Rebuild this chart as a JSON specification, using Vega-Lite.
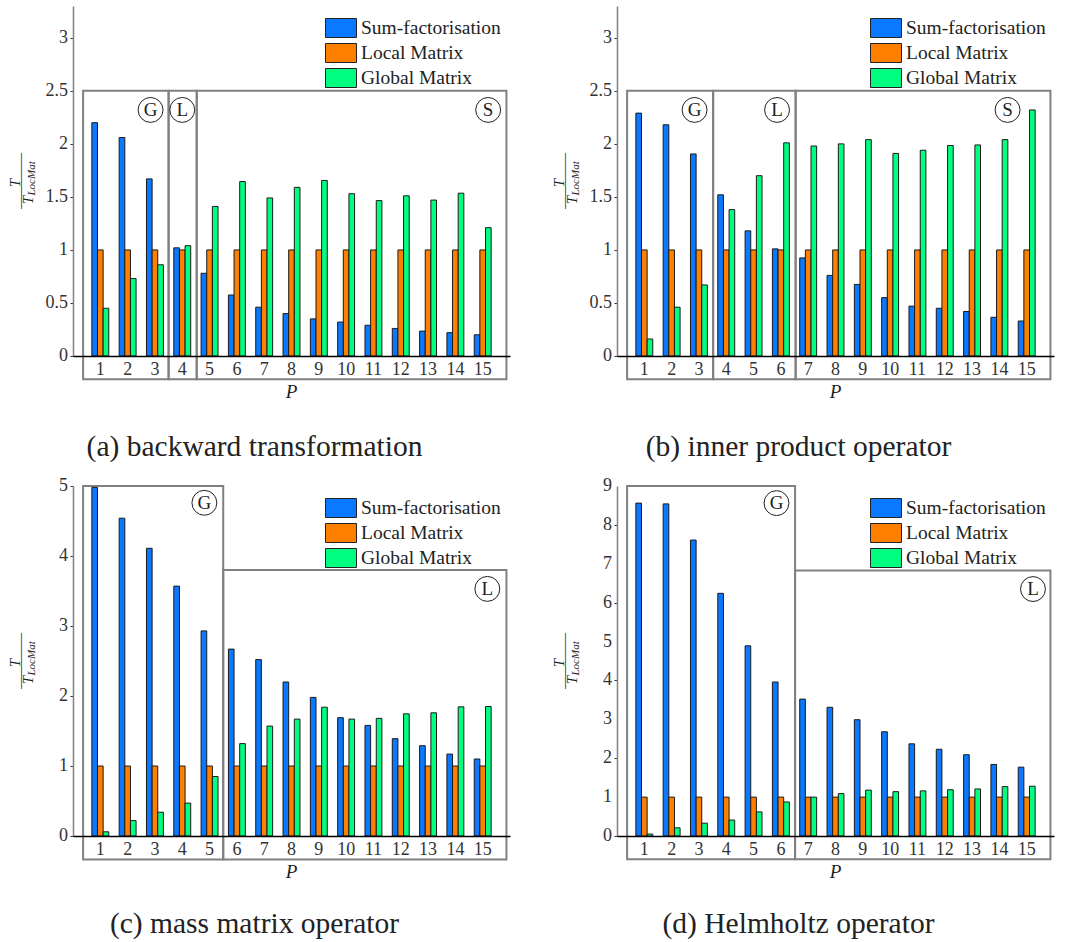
{
 "$schema": "https://vega.github.io/schema/vega-lite/v6.json",
 "padding": {"left": 8, "top": 6, "right": 5, "bottom": 0},
 "background": "white",
 "datasets": {
  "bars": [
   {"panel":"a","P":1,"Sum-factorisation":2.2,"Local Matrix":1,"Global Matrix":0.45},
   {"panel":"a","P":2,"Sum-factorisation":2.06,"Local Matrix":1,"Global Matrix":0.73},
   {"panel":"a","P":3,"Sum-factorisation":1.67,"Local Matrix":1,"Global Matrix":0.86},
   {"panel":"a","P":4,"Sum-factorisation":1.02,"Local Matrix":1,"Global Matrix":1.04},
   {"panel":"a","P":5,"Sum-factorisation":0.78,"Local Matrix":1,"Global Matrix":1.41},
   {"panel":"a","P":6,"Sum-factorisation":0.575,"Local Matrix":1,"Global Matrix":1.645},
   {"panel":"a","P":7,"Sum-factorisation":0.46,"Local Matrix":1,"Global Matrix":1.49},
   {"panel":"a","P":8,"Sum-factorisation":0.4,"Local Matrix":1,"Global Matrix":1.59},
   {"panel":"a","P":9,"Sum-factorisation":0.35,"Local Matrix":1,"Global Matrix":1.655},
   {"panel":"a","P":10,"Sum-factorisation":0.32,"Local Matrix":1,"Global Matrix":1.53},
   {"panel":"a","P":11,"Sum-factorisation":0.29,"Local Matrix":1,"Global Matrix":1.465},
   {"panel":"a","P":12,"Sum-factorisation":0.26,"Local Matrix":1,"Global Matrix":1.51},
   {"panel":"a","P":13,"Sum-factorisation":0.235,"Local Matrix":1,"Global Matrix":1.47},
   {"panel":"a","P":14,"Sum-factorisation":0.22,"Local Matrix":1,"Global Matrix":1.535},
   {"panel":"a","P":15,"Sum-factorisation":0.2,"Local Matrix":1,"Global Matrix":1.21},
   {"panel":"b","P":1,"Sum-factorisation":2.29,"Local Matrix":1,"Global Matrix":0.16},
   {"panel":"b","P":2,"Sum-factorisation":2.18,"Local Matrix":1,"Global Matrix":0.46},
   {"panel":"b","P":3,"Sum-factorisation":1.905,"Local Matrix":1,"Global Matrix":0.67},
   {"panel":"b","P":4,"Sum-factorisation":1.52,"Local Matrix":1,"Global Matrix":1.38},
   {"panel":"b","P":5,"Sum-factorisation":1.18,"Local Matrix":1,"Global Matrix":1.7},
   {"panel":"b","P":6,"Sum-factorisation":1.01,"Local Matrix":1,"Global Matrix":2.01},
   {"panel":"b","P":7,"Sum-factorisation":0.925,"Local Matrix":1,"Global Matrix":1.98},
   {"panel":"b","P":8,"Sum-factorisation":0.76,"Local Matrix":1,"Global Matrix":2.0},
   {"panel":"b","P":9,"Sum-factorisation":0.675,"Local Matrix":1,"Global Matrix":2.04},
   {"panel":"b","P":10,"Sum-factorisation":0.55,"Local Matrix":1,"Global Matrix":1.91},
   {"panel":"b","P":11,"Sum-factorisation":0.47,"Local Matrix":1,"Global Matrix":1.94},
   {"panel":"b","P":12,"Sum-factorisation":0.45,"Local Matrix":1,"Global Matrix":1.985},
   {"panel":"b","P":13,"Sum-factorisation":0.42,"Local Matrix":1,"Global Matrix":1.99},
   {"panel":"b","P":14,"Sum-factorisation":0.365,"Local Matrix":1,"Global Matrix":2.04},
   {"panel":"b","P":15,"Sum-factorisation":0.33,"Local Matrix":1,"Global Matrix":2.32},
   {"panel":"c","P":1,"Sum-factorisation":4.98,"Local Matrix":1,"Global Matrix":0.06},
   {"panel":"c","P":2,"Sum-factorisation":4.54,"Local Matrix":1,"Global Matrix":0.22},
   {"panel":"c","P":3,"Sum-factorisation":4.11,"Local Matrix":1,"Global Matrix":0.34},
   {"panel":"c","P":4,"Sum-factorisation":3.57,"Local Matrix":1,"Global Matrix":0.47},
   {"panel":"c","P":5,"Sum-factorisation":2.93,"Local Matrix":1,"Global Matrix":0.85},
   {"panel":"c","P":6,"Sum-factorisation":2.67,"Local Matrix":1,"Global Matrix":1.32},
   {"panel":"c","P":7,"Sum-factorisation":2.52,"Local Matrix":1,"Global Matrix":1.57},
   {"panel":"c","P":8,"Sum-factorisation":2.2,"Local Matrix":1,"Global Matrix":1.67},
   {"panel":"c","P":9,"Sum-factorisation":1.98,"Local Matrix":1,"Global Matrix":1.84},
   {"panel":"c","P":10,"Sum-factorisation":1.69,"Local Matrix":1,"Global Matrix":1.67},
   {"panel":"c","P":11,"Sum-factorisation":1.58,"Local Matrix":1,"Global Matrix":1.68},
   {"panel":"c","P":12,"Sum-factorisation":1.39,"Local Matrix":1,"Global Matrix":1.745},
   {"panel":"c","P":13,"Sum-factorisation":1.29,"Local Matrix":1,"Global Matrix":1.76},
   {"panel":"c","P":14,"Sum-factorisation":1.17,"Local Matrix":1,"Global Matrix":1.845},
   {"panel":"c","P":15,"Sum-factorisation":1.1,"Local Matrix":1,"Global Matrix":1.85},
   {"panel":"d","P":1,"Sum-factorisation":8.56,"Local Matrix":1,"Global Matrix":0.05},
   {"panel":"d","P":2,"Sum-factorisation":8.54,"Local Matrix":1,"Global Matrix":0.21},
   {"panel":"d","P":3,"Sum-factorisation":7.61,"Local Matrix":1,"Global Matrix":0.33},
   {"panel":"d","P":4,"Sum-factorisation":6.24,"Local Matrix":1,"Global Matrix":0.41},
   {"panel":"d","P":5,"Sum-factorisation":4.89,"Local Matrix":1,"Global Matrix":0.62},
   {"panel":"d","P":6,"Sum-factorisation":3.96,"Local Matrix":1,"Global Matrix":0.875},
   {"panel":"d","P":7,"Sum-factorisation":3.52,"Local Matrix":1,"Global Matrix":1.0},
   {"panel":"d","P":8,"Sum-factorisation":3.31,"Local Matrix":1,"Global Matrix":1.09},
   {"panel":"d","P":9,"Sum-factorisation":2.99,"Local Matrix":1,"Global Matrix":1.18},
   {"panel":"d","P":10,"Sum-factorisation":2.68,"Local Matrix":1,"Global Matrix":1.14},
   {"panel":"d","P":11,"Sum-factorisation":2.37,"Local Matrix":1,"Global Matrix":1.16},
   {"panel":"d","P":12,"Sum-factorisation":2.23,"Local Matrix":1,"Global Matrix":1.19},
   {"panel":"d","P":13,"Sum-factorisation":2.09,"Local Matrix":1,"Global Matrix":1.21},
   {"panel":"d","P":14,"Sum-factorisation":1.84,"Local Matrix":1,"Global Matrix":1.27},
   {"panel":"d","P":15,"Sum-factorisation":1.77,"Local Matrix":1,"Global Matrix":1.28}
  ],
  "boxes": [
   {"panel":"a","x0":0.37,"x1":3.5,"y0":-0.22,"y1":2.5},
   {"panel":"a","x0":3.5,"x1":4.53,"y0":-0.22,"y1":2.5},
   {"panel":"a","x0":4.53,"x1":15.87,"y0":-0.22,"y1":2.5},
   {"panel":"b","x0":0.37,"x1":3.52,"y0":-0.22,"y1":2.5},
   {"panel":"b","x0":3.52,"x1":6.54,"y0":-0.22,"y1":2.5},
   {"panel":"b","x0":6.54,"x1":15.87,"y0":-0.22,"y1":2.5},
   {"panel":"c","x0":0.37,"x1":5.5,"y0":-0.335,"y1":5.0},
   {"panel":"c","x0":5.5,"x1":15.87,"y0":-0.335,"y1":3.8},
   {"panel":"d","x0":0.37,"x1":6.52,"y0":-0.6,"y1":9.0},
   {"panel":"d","x0":6.52,"x1":15.87,"y0":-0.6,"y1":6.83}
  ],
  "circles": [
   {"panel":"a","label":"G","x":2.84,"y":2.32},
   {"panel":"a","label":"L","x":4.0,"y":2.32},
   {"panel":"a","label":"S","x":15.2,"y":2.32},
   {"panel":"b","label":"G","x":2.84,"y":2.32},
   {"panel":"b","label":"L","x":5.86,"y":2.32},
   {"panel":"b","label":"S","x":14.3,"y":2.32},
   {"panel":"c","label":"G","x":4.81,"y":4.76},
   {"panel":"c","label":"L","x":15.17,"y":3.53},
   {"panel":"d","label":"G","x":5.84,"y":8.56},
   {"panel":"d","label":"L","x":15.23,"y":6.35}
  ],
  "xlab": [{"P":1},{"P":2},{"P":3},{"P":4},{"P":5},{"P":6},{"P":7},{"P":8},{"P":9},{"P":10},{"P":11},{"P":12},{"P":13},{"P":14},{"P":15}],
  "yt": [
   {"panel":"a","v":0},{"panel":"a","v":0.5},{"panel":"a","v":1},{"panel":"a","v":1.5},{"panel":"a","v":2},{"panel":"a","v":2.5},{"panel":"a","v":3},
   {"panel":"b","v":0},{"panel":"b","v":0.5},{"panel":"b","v":1},{"panel":"b","v":1.5},{"panel":"b","v":2},{"panel":"b","v":2.5},{"panel":"b","v":3},
   {"panel":"c","v":0},{"panel":"c","v":1},{"panel":"c","v":2},{"panel":"c","v":3},{"panel":"c","v":4},{"panel":"c","v":5},
   {"panel":"d","v":0},{"panel":"d","v":1},{"panel":"d","v":2},{"panel":"d","v":3},{"panel":"d","v":4},{"panel":"d","v":5},{"panel":"d","v":6},{"panel":"d","v":7},{"panel":"d","v":8},{"panel":"d","v":9}
  ],
  "frac": [{"panel":"a","ymid":1.65},{"panel":"b","ymid":1.65},{"panel":"c","ymid":2.5},{"panel":"d","ymid":4.5}]
 },
 "columns": 2,
 "spacing": {"row": 15, "column": 42},
 "concat": [
  {
   "width": 437, "height": 350,
   "title": {"text": "(a) backward transformation", "offset": 31},
   "layer": [
    {"layer": [
     {"data": {"name": "boxes"}, "transform": [{"filter": "datum.panel == 'a'"}],
      "mark": {"type": "rect", "filled": false, "stroke": "#808080", "strokeWidth": 2},
      "encoding": {
       "x": {"field": "x0", "type": "quantitative", "scale": {"domain": [0, 16], "nice": false, "zero": false},
             "axis": {"labels": false, "ticks": false, "title": null, "grid": false, "domainColor": "#000000", "domainWidth": 1.5, "zindex": 1}},
       "x2": {"field": "x1"},
       "y": {"field": "y1", "type": "quantitative", "scale": {"domain": [0, 3.3], "nice": false}},
       "y2": {"field": "y0"}}},
     {"data": {"name": "circles"}, "transform": [{"filter": "datum.panel == 'a'"}],
      "mark": {"type": "point", "shape": "circle", "size": 620, "filled": false, "stroke": "#222", "strokeWidth": 1, "opacity": 1},
      "encoding": {"x": {"field": "x", "type": "quantitative"}, "y": {"field": "y", "type": "quantitative"}}},
     {"data": {"name": "circles"}, "transform": [{"filter": "datum.panel == 'a'"}],
      "mark": {"type": "text", "fontSize": 19, "color": "#222", "baseline": "middle", "align": "center"},
      "encoding": {"x": {"field": "x", "type": "quantitative"}, "y": {"field": "y", "type": "quantitative"}, "text": {"field": "label"}}},
     {"data": {"name": "xlab"},
      "mark": {"type": "text", "fontSize": 18, "color": "#333333", "baseline": "middle", "align": "center", "dy": 14},
      "encoding": {"x": {"field": "P", "type": "quantitative"}, "y": {"datum": 0, "type": "quantitative"}, "text": {"field": "P", "type": "quantitative"}}},
     {"data": {"name": "yt"}, "transform": [{"filter": "datum.panel == 'a'"}],
      "mark": {"type": "text", "fontSize": 18, "color": "#333333", "baseline": "middle", "align": "right", "dx": -5},
      "encoding": {"x": {"datum": 0, "type": "quantitative"}, "y": {"field": "v", "type": "quantitative"}, "text": {"field": "v", "type": "quantitative", "format": "~g"}}},
     {"data": {"name": "frac"}, "transform": [{"filter": "datum.panel == 'a'"}],
      "mark": {"type": "text", "fontSize": 19, "fontStyle": "italic", "color": "#222222", "baseline": "middle", "align": "center", "dy": 36},
      "encoding": {"x": {"datum": 8, "type": "quantitative"}, "y": {"datum": 0, "type": "quantitative"}, "text": {"value": "P"}}},
     {"data": {"name": "frac"}, "transform": [{"filter": "datum.panel == 'a'"}],
      "mark": {"type": "text", "fontSize": 15, "fontStyle": "italic", "color": "#222222", "baseline": "middle", "align": "center", "angle": 270, "dx": -2, "dy": -58},
      "encoding": {"x": {"datum": 0, "type": "quantitative"}, "y": {"field": "ymid", "type": "quantitative"}, "text": {"value": "T"}}},
     {"data": {"name": "frac"}, "transform": [{"filter": "datum.panel == 'a'"}],
      "mark": {"type": "text", "fontSize": 14, "color": "#222222", "baseline": "middle", "align": "center", "angle": 270, "dx": 0, "dy": -52},
      "encoding": {"x": {"datum": 0, "type": "quantitative"}, "y": {"field": "ymid", "type": "quantitative"}, "text": {"value": "\u2014\u2014\u2014\u2014"}}},
     {"data": {"name": "frac"}, "transform": [{"filter": "datum.panel == 'a'"}],
      "mark": {"type": "text", "fontSize": 15, "fontStyle": "italic", "color": "#222222", "baseline": "middle", "align": "right", "angle": 270, "dx": -15, "dy": -45},
      "encoding": {"x": {"datum": 0, "type": "quantitative"}, "y": {"field": "ymid", "type": "quantitative"}, "text": {"value": "T"}}},
     {"data": {"name": "frac"}, "transform": [{"filter": "datum.panel == 'a'"}],
      "mark": {"type": "text", "fontSize": 11, "fontStyle": "italic", "color": "#222222", "baseline": "middle", "align": "left", "angle": 270, "dx": -14.5, "dy": -41},
      "encoding": {"x": {"datum": 0, "type": "quantitative"}, "y": {"field": "ymid", "type": "quantitative"}, "text": {"value": "LocMat"}}}
    ]},
    {"data": {"name": "bars"},
     "transform": [{"filter": "datum.panel == 'a'"}, {"fold": ["Sum-factorisation", "Local Matrix", "Global Matrix"], "as": ["series", "value"]}],
     "mark": {"type": "bar", "stroke": "#1a1a1a", "strokeWidth": 1},
     "encoding": {
      "x": {"field": "P", "type": "ordinal", "scale": {"paddingInner": 0.38, "paddingOuter": 0.69}, "axis": null},
      "xOffset": {"field": "series", "type": "nominal", "sort": ["Sum-factorisation", "Local Matrix", "Global Matrix"]},
      "y": {"field": "value", "type": "quantitative", "scale": {"domain": [0, 3.3], "nice": false},
            "axis": {"values": [0, 0.5, 1, 1.5, 2, 2.5, 3], "labels": false, "title": null, "grid": false, "tickSize": 3, "tickColor": "#333333", "domainColor": "#808080", "domainWidth": 1.5}},
      "color": {"field": "series", "type": "nominal",
                "scale": {"domain": ["Sum-factorisation", "Local Matrix", "Global Matrix"], "range": ["#0a78ff", "#ff8000", "#00ff80"]},
                "legend": {"title": null, "orient": "none", "legendX": 258, "legendY": 12}}}}
   ],
   "resolve": {"scale": {"x": "independent"}}
  },
  {
   "width": 437, "height": 350,
   "title": {"text": "(b) inner product operator", "offset": 31},
   "layer": [
    {"layer": [
     {"data": {"name": "boxes"}, "transform": [{"filter": "datum.panel == 'b'"}],
      "mark": {"type": "rect", "filled": false, "stroke": "#808080", "strokeWidth": 2},
      "encoding": {
       "x": {"field": "x0", "type": "quantitative", "scale": {"domain": [0, 16], "nice": false, "zero": false},
             "axis": {"labels": false, "ticks": false, "title": null, "grid": false, "domainColor": "#000000", "domainWidth": 1.5, "zindex": 1}},
       "x2": {"field": "x1"},
       "y": {"field": "y1", "type": "quantitative", "scale": {"domain": [0, 3.3], "nice": false}},
       "y2": {"field": "y0"}}},
     {"data": {"name": "circles"}, "transform": [{"filter": "datum.panel == 'b'"}],
      "mark": {"type": "point", "shape": "circle", "size": 620, "filled": false, "stroke": "#222", "strokeWidth": 1, "opacity": 1},
      "encoding": {"x": {"field": "x", "type": "quantitative"}, "y": {"field": "y", "type": "quantitative"}}},
     {"data": {"name": "circles"}, "transform": [{"filter": "datum.panel == 'b'"}],
      "mark": {"type": "text", "fontSize": 19, "color": "#222", "baseline": "middle", "align": "center"},
      "encoding": {"x": {"field": "x", "type": "quantitative"}, "y": {"field": "y", "type": "quantitative"}, "text": {"field": "label"}}},
     {"data": {"name": "xlab"},
      "mark": {"type": "text", "fontSize": 18, "color": "#333333", "baseline": "middle", "align": "center", "dy": 14},
      "encoding": {"x": {"field": "P", "type": "quantitative"}, "y": {"datum": 0, "type": "quantitative"}, "text": {"field": "P", "type": "quantitative"}}},
     {"data": {"name": "yt"}, "transform": [{"filter": "datum.panel == 'b'"}],
      "mark": {"type": "text", "fontSize": 18, "color": "#333333", "baseline": "middle", "align": "right", "dx": -5},
      "encoding": {"x": {"datum": 0, "type": "quantitative"}, "y": {"field": "v", "type": "quantitative"}, "text": {"field": "v", "type": "quantitative", "format": "~g"}}},
     {"data": {"name": "frac"}, "transform": [{"filter": "datum.panel == 'b'"}],
      "mark": {"type": "text", "fontSize": 19, "fontStyle": "italic", "color": "#222222", "baseline": "middle", "align": "center", "dy": 36},
      "encoding": {"x": {"datum": 8, "type": "quantitative"}, "y": {"datum": 0, "type": "quantitative"}, "text": {"value": "P"}}},
     {"data": {"name": "frac"}, "transform": [{"filter": "datum.panel == 'b'"}],
      "mark": {"type": "text", "fontSize": 15, "fontStyle": "italic", "color": "#222222", "baseline": "middle", "align": "center", "angle": 270, "dx": -2, "dy": -58},
      "encoding": {"x": {"datum": 0, "type": "quantitative"}, "y": {"field": "ymid", "type": "quantitative"}, "text": {"value": "T"}}},
     {"data": {"name": "frac"}, "transform": [{"filter": "datum.panel == 'b'"}],
      "mark": {"type": "text", "fontSize": 14, "color": "#222222", "baseline": "middle", "align": "center", "angle": 270, "dx": 0, "dy": -52},
      "encoding": {"x": {"datum": 0, "type": "quantitative"}, "y": {"field": "ymid", "type": "quantitative"}, "text": {"value": "\u2014\u2014\u2014\u2014"}}},
     {"data": {"name": "frac"}, "transform": [{"filter": "datum.panel == 'b'"}],
      "mark": {"type": "text", "fontSize": 15, "fontStyle": "italic", "color": "#222222", "baseline": "middle", "align": "right", "angle": 270, "dx": -15, "dy": -45},
      "encoding": {"x": {"datum": 0, "type": "quantitative"}, "y": {"field": "ymid", "type": "quantitative"}, "text": {"value": "T"}}},
     {"data": {"name": "frac"}, "transform": [{"filter": "datum.panel == 'b'"}],
      "mark": {"type": "text", "fontSize": 11, "fontStyle": "italic", "color": "#222222", "baseline": "middle", "align": "left", "angle": 270, "dx": -14.5, "dy": -41},
      "encoding": {"x": {"datum": 0, "type": "quantitative"}, "y": {"field": "ymid", "type": "quantitative"}, "text": {"value": "LocMat"}}}
    ]},
    {"data": {"name": "bars"},
     "transform": [{"filter": "datum.panel == 'b'"}, {"fold": ["Sum-factorisation", "Local Matrix", "Global Matrix"], "as": ["series", "value"]}],
     "mark": {"type": "bar", "stroke": "#1a1a1a", "strokeWidth": 1},
     "encoding": {
      "x": {"field": "P", "type": "ordinal", "scale": {"paddingInner": 0.38, "paddingOuter": 0.69}, "axis": null},
      "xOffset": {"field": "series", "type": "nominal", "sort": ["Sum-factorisation", "Local Matrix", "Global Matrix"]},
      "y": {"field": "value", "type": "quantitative", "scale": {"domain": [0, 3.3], "nice": false},
            "axis": {"values": [0, 0.5, 1, 1.5, 2, 2.5, 3], "labels": false, "title": null, "grid": false, "tickSize": 3, "tickColor": "#333333", "domainColor": "#808080", "domainWidth": 1.5}},
      "color": {"field": "series", "type": "nominal",
                "scale": {"domain": ["Sum-factorisation", "Local Matrix", "Global Matrix"], "range": ["#0a78ff", "#ff8000", "#00ff80"]},
                "legend": {"title": null, "orient": "none", "legendX": 259, "legendY": 12}}}}
   ],
   "resolve": {"scale": {"x": "independent"}}
  },
  {
   "width": 437, "height": 350,
   "title": {"text": "(c) mass matrix operator", "offset": 28},
   "layer": [
    {"layer": [
     {"data": {"name": "boxes"}, "transform": [{"filter": "datum.panel == 'c'"}],
      "mark": {"type": "rect", "filled": false, "stroke": "#808080", "strokeWidth": 2},
      "encoding": {
       "x": {"field": "x0", "type": "quantitative", "scale": {"domain": [0, 16], "nice": false, "zero": false},
             "axis": {"labels": false, "ticks": false, "title": null, "grid": false, "domainColor": "#000000", "domainWidth": 1.5, "zindex": 1}},
       "x2": {"field": "x1"},
       "y": {"field": "y1", "type": "quantitative", "scale": {"domain": [0, 5], "nice": false}},
       "y2": {"field": "y0"}}},
     {"data": {"name": "circles"}, "transform": [{"filter": "datum.panel == 'c'"}],
      "mark": {"type": "point", "shape": "circle", "size": 620, "filled": false, "stroke": "#222", "strokeWidth": 1, "opacity": 1},
      "encoding": {"x": {"field": "x", "type": "quantitative"}, "y": {"field": "y", "type": "quantitative"}}},
     {"data": {"name": "circles"}, "transform": [{"filter": "datum.panel == 'c'"}],
      "mark": {"type": "text", "fontSize": 19, "color": "#222", "baseline": "middle", "align": "center"},
      "encoding": {"x": {"field": "x", "type": "quantitative"}, "y": {"field": "y", "type": "quantitative"}, "text": {"field": "label"}}},
     {"data": {"name": "xlab"},
      "mark": {"type": "text", "fontSize": 18, "color": "#333333", "baseline": "middle", "align": "center", "dy": 14},
      "encoding": {"x": {"field": "P", "type": "quantitative"}, "y": {"datum": 0, "type": "quantitative"}, "text": {"field": "P", "type": "quantitative"}}},
     {"data": {"name": "yt"}, "transform": [{"filter": "datum.panel == 'c'"}],
      "mark": {"type": "text", "fontSize": 18, "color": "#333333", "baseline": "middle", "align": "right", "dx": -5},
      "encoding": {"x": {"datum": 0, "type": "quantitative"}, "y": {"field": "v", "type": "quantitative"}, "text": {"field": "v", "type": "quantitative", "format": "~g"}}},
     {"data": {"name": "frac"}, "transform": [{"filter": "datum.panel == 'c'"}],
      "mark": {"type": "text", "fontSize": 19, "fontStyle": "italic", "color": "#222222", "baseline": "middle", "align": "center", "dy": 36},
      "encoding": {"x": {"datum": 8, "type": "quantitative"}, "y": {"datum": 0, "type": "quantitative"}, "text": {"value": "P"}}},
     {"data": {"name": "frac"}, "transform": [{"filter": "datum.panel == 'c'"}],
      "mark": {"type": "text", "fontSize": 15, "fontStyle": "italic", "color": "#222222", "baseline": "middle", "align": "center", "angle": 270, "dx": -2, "dy": -58},
      "encoding": {"x": {"datum": 0, "type": "quantitative"}, "y": {"field": "ymid", "type": "quantitative"}, "text": {"value": "T"}}},
     {"data": {"name": "frac"}, "transform": [{"filter": "datum.panel == 'c'"}],
      "mark": {"type": "text", "fontSize": 14, "color": "#222222", "baseline": "middle", "align": "center", "angle": 270, "dx": 0, "dy": -52},
      "encoding": {"x": {"datum": 0, "type": "quantitative"}, "y": {"field": "ymid", "type": "quantitative"}, "text": {"value": "\u2014\u2014\u2014\u2014"}}},
     {"data": {"name": "frac"}, "transform": [{"filter": "datum.panel == 'c'"}],
      "mark": {"type": "text", "fontSize": 15, "fontStyle": "italic", "color": "#222222", "baseline": "middle", "align": "right", "angle": 270, "dx": -15, "dy": -45},
      "encoding": {"x": {"datum": 0, "type": "quantitative"}, "y": {"field": "ymid", "type": "quantitative"}, "text": {"value": "T"}}},
     {"data": {"name": "frac"}, "transform": [{"filter": "datum.panel == 'c'"}],
      "mark": {"type": "text", "fontSize": 11, "fontStyle": "italic", "color": "#222222", "baseline": "middle", "align": "left", "angle": 270, "dx": -14.5, "dy": -41},
      "encoding": {"x": {"datum": 0, "type": "quantitative"}, "y": {"field": "ymid", "type": "quantitative"}, "text": {"value": "LocMat"}}}
    ]},
    {"data": {"name": "bars"},
     "transform": [{"filter": "datum.panel == 'c'"}, {"fold": ["Sum-factorisation", "Local Matrix", "Global Matrix"], "as": ["series", "value"]}],
     "mark": {"type": "bar", "stroke": "#1a1a1a", "strokeWidth": 1},
     "encoding": {
      "x": {"field": "P", "type": "ordinal", "scale": {"paddingInner": 0.38, "paddingOuter": 0.69}, "axis": null},
      "xOffset": {"field": "series", "type": "nominal", "sort": ["Sum-factorisation", "Local Matrix", "Global Matrix"]},
      "y": {"field": "value", "type": "quantitative", "scale": {"domain": [0, 5], "nice": false},
            "axis": {"values": [0, 1, 2, 3, 4, 5], "labels": false, "title": null, "grid": false, "tickSize": 3, "tickColor": "#333333", "domainColor": "#808080", "domainWidth": 1.5}},
      "color": {"field": "series", "type": "nominal",
                "scale": {"domain": ["Sum-factorisation", "Local Matrix", "Global Matrix"], "range": ["#0a78ff", "#ff8000", "#00ff80"]},
                "legend": {"title": null, "orient": "none", "legendX": 258, "legendY": 12}}}}
   ],
   "resolve": {"scale": {"x": "independent"}}
  },
  {
   "width": 437, "height": 350,
   "title": {"text": "(d) Helmholtz operator", "offset": 28},
   "layer": [
    {"layer": [
     {"data": {"name": "boxes"}, "transform": [{"filter": "datum.panel == 'd'"}],
      "mark": {"type": "rect", "filled": false, "stroke": "#808080", "strokeWidth": 2},
      "encoding": {
       "x": {"field": "x0", "type": "quantitative", "scale": {"domain": [0, 16], "nice": false, "zero": false},
             "axis": {"labels": false, "ticks": false, "title": null, "grid": false, "domainColor": "#000000", "domainWidth": 1.5, "zindex": 1}},
       "x2": {"field": "x1"},
       "y": {"field": "y1", "type": "quantitative", "scale": {"domain": [0, 9], "nice": false}},
       "y2": {"field": "y0"}}},
     {"data": {"name": "circles"}, "transform": [{"filter": "datum.panel == 'd'"}],
      "mark": {"type": "point", "shape": "circle", "size": 620, "filled": false, "stroke": "#222", "strokeWidth": 1, "opacity": 1},
      "encoding": {"x": {"field": "x", "type": "quantitative"}, "y": {"field": "y", "type": "quantitative"}}},
     {"data": {"name": "circles"}, "transform": [{"filter": "datum.panel == 'd'"}],
      "mark": {"type": "text", "fontSize": 19, "color": "#222", "baseline": "middle", "align": "center"},
      "encoding": {"x": {"field": "x", "type": "quantitative"}, "y": {"field": "y", "type": "quantitative"}, "text": {"field": "label"}}},
     {"data": {"name": "xlab"},
      "mark": {"type": "text", "fontSize": 18, "color": "#333333", "baseline": "middle", "align": "center", "dy": 14},
      "encoding": {"x": {"field": "P", "type": "quantitative"}, "y": {"datum": 0, "type": "quantitative"}, "text": {"field": "P", "type": "quantitative"}}},
     {"data": {"name": "yt"}, "transform": [{"filter": "datum.panel == 'd'"}],
      "mark": {"type": "text", "fontSize": 18, "color": "#333333", "baseline": "middle", "align": "right", "dx": -5},
      "encoding": {"x": {"datum": 0, "type": "quantitative"}, "y": {"field": "v", "type": "quantitative"}, "text": {"field": "v", "type": "quantitative", "format": "~g"}}},
     {"data": {"name": "frac"}, "transform": [{"filter": "datum.panel == 'd'"}],
      "mark": {"type": "text", "fontSize": 19, "fontStyle": "italic", "color": "#222222", "baseline": "middle", "align": "center", "dy": 36},
      "encoding": {"x": {"datum": 8, "type": "quantitative"}, "y": {"datum": 0, "type": "quantitative"}, "text": {"value": "P"}}},
     {"data": {"name": "frac"}, "transform": [{"filter": "datum.panel == 'd'"}],
      "mark": {"type": "text", "fontSize": 15, "fontStyle": "italic", "color": "#222222", "baseline": "middle", "align": "center", "angle": 270, "dx": -2, "dy": -58},
      "encoding": {"x": {"datum": 0, "type": "quantitative"}, "y": {"field": "ymid", "type": "quantitative"}, "text": {"value": "T"}}},
     {"data": {"name": "frac"}, "transform": [{"filter": "datum.panel == 'd'"}],
      "mark": {"type": "text", "fontSize": 14, "color": "#222222", "baseline": "middle", "align": "center", "angle": 270, "dx": 0, "dy": -52},
      "encoding": {"x": {"datum": 0, "type": "quantitative"}, "y": {"field": "ymid", "type": "quantitative"}, "text": {"value": "\u2014\u2014\u2014\u2014"}}},
     {"data": {"name": "frac"}, "transform": [{"filter": "datum.panel == 'd'"}],
      "mark": {"type": "text", "fontSize": 15, "fontStyle": "italic", "color": "#222222", "baseline": "middle", "align": "right", "angle": 270, "dx": -15, "dy": -45},
      "encoding": {"x": {"datum": 0, "type": "quantitative"}, "y": {"field": "ymid", "type": "quantitative"}, "text": {"value": "T"}}},
     {"data": {"name": "frac"}, "transform": [{"filter": "datum.panel == 'd'"}],
      "mark": {"type": "text", "fontSize": 11, "fontStyle": "italic", "color": "#222222", "baseline": "middle", "align": "left", "angle": 270, "dx": -14.5, "dy": -41},
      "encoding": {"x": {"datum": 0, "type": "quantitative"}, "y": {"field": "ymid", "type": "quantitative"}, "text": {"value": "LocMat"}}}
    ]},
    {"data": {"name": "bars"},
     "transform": [{"filter": "datum.panel == 'd'"}, {"fold": ["Sum-factorisation", "Local Matrix", "Global Matrix"], "as": ["series", "value"]}],
     "mark": {"type": "bar", "stroke": "#1a1a1a", "strokeWidth": 1},
     "encoding": {
      "x": {"field": "P", "type": "ordinal", "scale": {"paddingInner": 0.38, "paddingOuter": 0.69}, "axis": null},
      "xOffset": {"field": "series", "type": "nominal", "sort": ["Sum-factorisation", "Local Matrix", "Global Matrix"]},
      "y": {"field": "value", "type": "quantitative", "scale": {"domain": [0, 9], "nice": false},
            "axis": {"values": [0, 1, 2, 3, 4, 5, 6, 7, 8, 9], "labels": false, "title": null, "grid": false, "tickSize": 3, "tickColor": "#333333", "domainColor": "#808080", "domainWidth": 1.5}},
      "color": {"field": "series", "type": "nominal",
                "scale": {"domain": ["Sum-factorisation", "Local Matrix", "Global Matrix"], "range": ["#0a78ff", "#ff8000", "#00ff80"]},
                "legend": {"title": null, "orient": "none", "legendX": 259, "legendY": 12}}}}
   ],
   "resolve": {"scale": {"x": "independent"}}
  }
 ],
 "resolve": {"scale": {"color": "independent"}, "legend": {"color": "independent"}},
 "config": {
  "font": "Liberation Serif",
  "view": {"stroke": null},
  "text": {"font": "Liberation Serif"},
  "legend": {"symbolType": "M-1.63,-1H1.63V1H-1.63Z", "symbolSize": 361, "symbolStrokeColor": "#222222", "symbolStrokeWidth": 1,
             "symbolOpacity": 1, "labelFont": "Liberation Serif", "labelFontSize": 19.5, "labelColor": "#222222", "labelOffset": 10,
             "rowPadding": 1, "padding": 0, "labelLimit": 300},
  "title": {"orient": "bottom", "anchor": "middle", "frame": "group", "dx": -37, "fontSize": 29.5,
            "font": "Liberation Serif", "fontWeight": "normal", "color": "#222222"}
 }
}
